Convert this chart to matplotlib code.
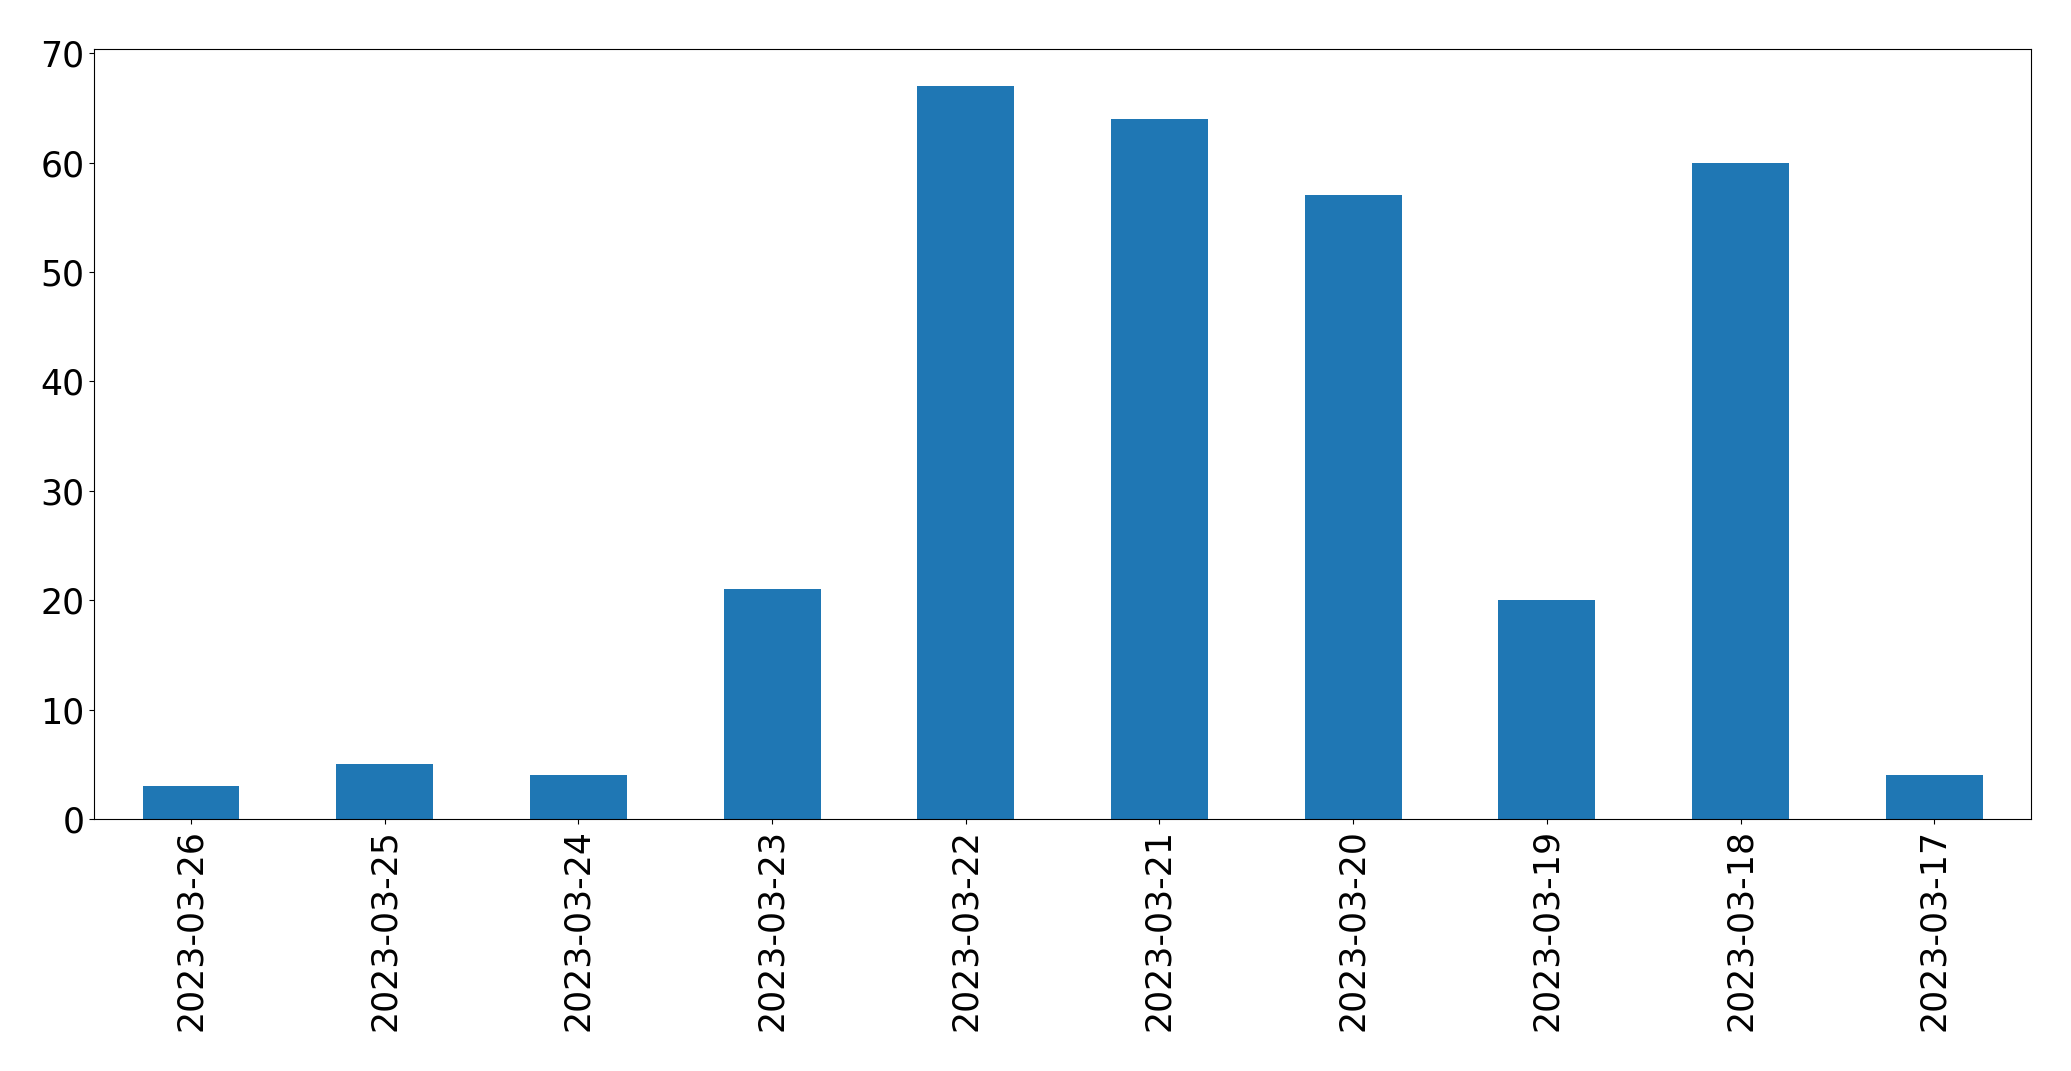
import matplotlib
matplotlib.use('Agg')
import matplotlib.pyplot as plt
import numpy as np

dates = ['2023-03-26', '2023-03-25', '2023-03-24', '2023-03-23', '2023-03-22',
         '2023-03-21', '2023-03-20', '2023-03-19', '2023-03-18', '2023-03-17']
counts = [3, 5, 4, 21, 67, 64, 57, 20, 60, 4]

fig = plt.figure(figsize=(20.71, 10.71), dpi=100)
ax = fig.add_axes([0.0455, 0.2353, 0.9352, 0.7187])

x = np.arange(len(dates))
ax.bar(x, counts, width=0.5, color='#1f77b4')
ax.set_xlim(-0.5, len(dates) - 0.5)
ax.set_xticks(x)
ax.set_xticklabels(dates, rotation=90)
ax.tick_params(labelsize=25)

fig.savefig('out.png', dpi=100)
